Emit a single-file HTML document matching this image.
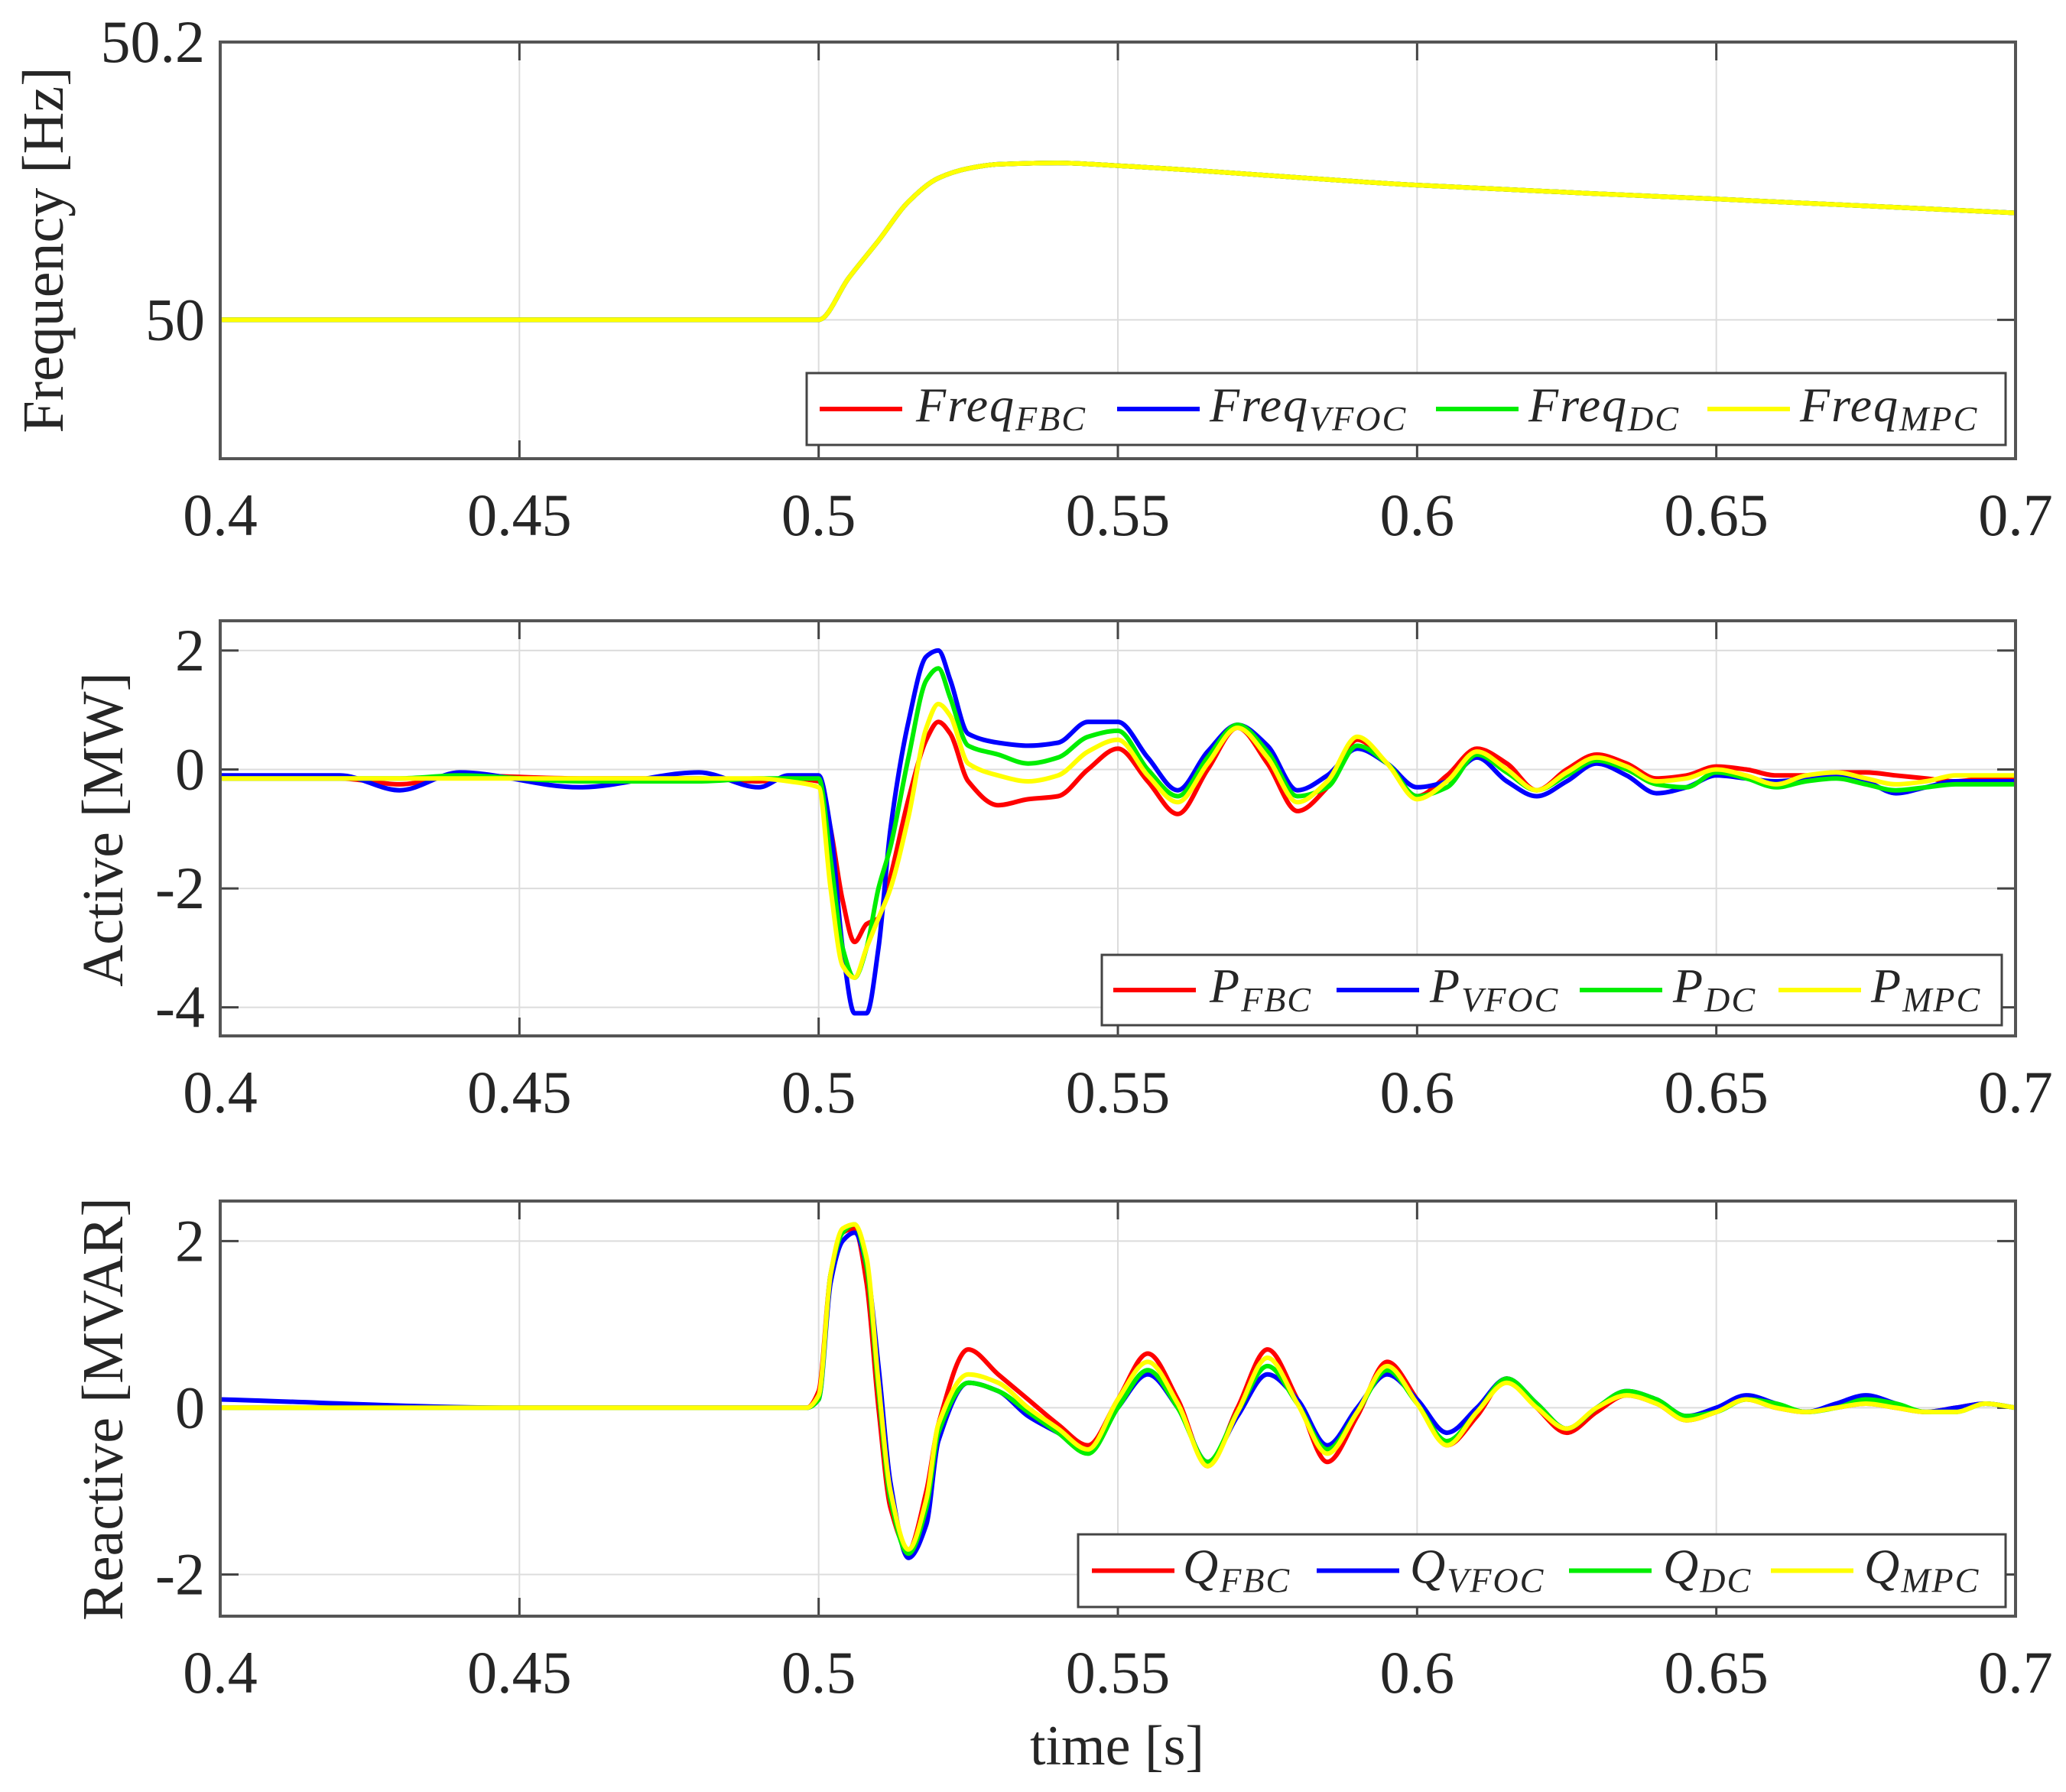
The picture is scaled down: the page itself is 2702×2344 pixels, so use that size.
<!DOCTYPE html>
<html><head><meta charset="utf-8"><style>
html,body{margin:0;padding:0;background:#fff}
svg{display:block}
text{font-family:"Liberation Serif","DejaVu Serif",serif;fill:#262626}
</style></head><body>
<svg id="fig" width="2702" height="2344" viewBox="0 0 2702 2344" xmlns="http://www.w3.org/2000/svg"></svg>
<script>
// ---- data ----
const xTicks=[0.4,0.45,0.5,0.55,0.6,0.65,0.7];
const xTickLabels=["0.4","0.45","0.5","0.55","0.6","0.65","0.7"];
const seriesColors=["#ff0000","#0000ff","#00ee00","#ffff00"];
const seriesKeys=["FBC","VFOC","DC","MPC"];

const tF=[0.4,0.5,0.505,0.51,0.515,0.52,0.525,0.53,0.54,0.55,0.6,0.65,0.7];
const fFBC=[50,50,50.03,50.057,50.085,50.102,50.109,50.112,50.113,50.111,50.097,50.087,50.077];
const fVFOC=[50,50,50.03,50.057,50.085,50.102,50.109,50.112,50.113,50.111,50.097,50.087,50.077];
const fDC=[50,50,50.03,50.057,50.085,50.102,50.109,50.112,50.113,50.111,50.097,50.087,50.077];
const fMPC=[50,50,50.03,50.057,50.085,50.102,50.109,50.112,50.113,50.111,50.097,50.087,50.077];
const fYTicks=[50,50.2];
const fYTickLabels=["50","50.2"];

const tP=[0.4,0.42,0.43,0.44,0.46,0.48,0.49,0.495,0.5,0.502,0.504,0.506,0.508,0.51,0.512,0.515,0.518,0.52,0.522,
0.525,0.53,0.535,0.54,0.545,0.55,0.555,0.56,0.565,0.57,0.575,0.58,0.585,0.59,0.595,0.6,0.605,0.61,0.615,0.62,0.625,0.63,0.635,0.64,0.645,0.65,0.655,0.66,0.665,0.67,0.675,0.68,0.685,0.69,0.695,0.7];
const pFBC=[-0.15,-0.15,-0.25,-0.1,-0.15,-0.15,-0.2,-0.15,-0.2,-1,-2.2,-2.9,-2.6,-2.5,-1.8,-0.5,0.5,0.8,0.6,
-0.2,-0.6,-0.5,-0.45,0,0.35,-0.2,-0.75,0,0.7,0.1,-0.7,-0.3,0.5,0.1,-0.45,-0.1,0.35,0.1,-0.35,0,0.25,0.1,-0.15,-0.1,0.05,0.0,-0.1,-0.1,-0.05,-0.05,-0.1,-0.15,-0.2,-0.15,-0.15];
const pVFOC=[-0.1,-0.1,-0.35,-0.05,-0.3,-0.05,-0.3,-0.1,-0.1,-1.0,-3.0,-4.1,-4.1,-3.0,-1.0,0.8,1.9,2.0,1.5,
0.6,0.45,0.4,0.45,0.8,0.8,0.2,-0.35,0.3,0.75,0.4,-0.35,-0.1,0.35,0.1,-0.3,-0.2,0.2,-0.2,-0.45,-0.2,0.1,-0.1,-0.4,-0.3,-0.1,-0.15,-0.2,-0.15,-0.1,-0.2,-0.4,-0.3,-0.2,-0.2,-0.2];
const pDC=[-0.15,-0.15,-0.15,-0.1,-0.2,-0.2,-0.15,-0.15,-0.15,-1.5,-3.0,-3.5,-3.0,-2.0,-1.3,0.2,1.5,1.7,1.2,
0.4,0.25,0.1,0.2,0.55,0.65,0,-0.45,0.2,0.75,0.3,-0.45,-0.3,0.4,0.1,-0.45,-0.3,0.25,-0.05,-0.35,-0.1,0.15,0,-0.25,-0.3,-0.05,-0.15,-0.3,-0.2,-0.15,-0.25,-0.35,-0.3,-0.25,-0.25,-0.25];
const pMPC=[-0.15,-0.15,-0.15,-0.15,-0.15,-0.15,-0.15,-0.2,-0.3,-2.0,-3.3,-3.5,-3.0,-2.5,-2.0,-0.8,0.7,1.1,0.9,
0.1,-0.1,-0.2,-0.1,0.3,0.5,-0.1,-0.55,0.1,0.7,0.2,-0.55,-0.2,0.55,0.1,-0.5,-0.2,0.3,0,-0.35,-0.05,0.2,0.05,-0.2,-0.15,0,-0.1,-0.25,-0.1,-0.05,-0.15,-0.25,-0.2,-0.1,-0.1,-0.1];
const pYTicks=[-4,-2,0,2];
const pYTickLabels=["-4","-2","0","2"];

const tQ=[0.4,0.45,0.498,0.5,0.502,0.504,0.506,0.508,0.51,0.512,0.515,0.518,0.52,
0.525,0.53,0.535,0.54,0.545,0.55,0.555,0.56,0.565,0.57,0.575,0.58,0.585,0.59,0.595,0.6,0.605,0.61,0.615,0.62,0.625,0.63,0.635,0.64,0.645,0.65,0.655,0.66,0.665,0.67,0.675,0.68,0.685,0.69,0.695,0.7];
const qFBC=[0,0,0,0.2,1.6,2.1,2.15,1.5,0,-1.2,-1.7,-1.0,-0.2,
0.7,0.4,0.1,-0.2,-0.45,0.1,0.65,0.1,-0.7,0.0,0.7,0.1,-0.65,-0.1,0.55,0.1,-0.45,-0.1,0.35,0.0,-0.3,-0.05,0.15,0.05,-0.15,-0.05,0.1,0.0,-0.05,0.0,0.05,0.0,-0.05,0.0,0.05,0.0];
const qVFOC=[0.1,0,0,0.1,1.5,2.0,2.1,1.7,0.5,-0.9,-1.8,-1.4,-0.4,
0.3,0.2,-0.1,-0.3,-0.5,0.0,0.4,0.0,-0.65,-0.1,0.4,0.1,-0.45,0.0,0.4,0.1,-0.3,0.0,0.35,0.05,-0.25,0.0,0.2,0.1,-0.1,0.0,0.15,0.05,-0.05,0.05,0.15,0.05,-0.05,0.0,0.05,0.0];
const qDC=[0,0,0,0.1,1.6,2.1,2.2,1.7,0.2,-1.1,-1.75,-1.2,-0.3,
0.3,0.2,-0.05,-0.3,-0.55,0.0,0.45,0.0,-0.65,-0.05,0.5,0.05,-0.5,-0.05,0.45,0.05,-0.4,-0.05,0.35,0.05,-0.25,0.0,0.2,0.1,-0.1,-0.05,0.1,0.05,-0.05,0.0,0.1,0.05,-0.05,-0.05,0.05,0.0];
const qMPC=[0,0,0,0.15,1.6,2.15,2.2,1.8,0.3,-1.0,-1.7,-1.1,-0.2,
0.4,0.3,0.0,-0.25,-0.5,0.1,0.55,0.05,-0.7,-0.05,0.6,0.05,-0.55,-0.05,0.5,0.05,-0.45,-0.05,0.3,0.0,-0.25,0.0,0.15,0.05,-0.15,-0.05,0.1,0.0,-0.05,0.0,0.05,0.0,-0.05,-0.05,0.05,0.0];
const qYTicks=[-2,0,2];
const qYTickLabels=["-2","0","2"];

// ---- drawing ----
const NS="http://www.w3.org/2000/svg";
const svg=document.getElementById('fig');
function mk(tag,attrs,parent){const e=document.createElementNS(NS,tag);for(const k in attrs)e.setAttribute(k,attrs[k]);(parent||svg).appendChild(e);return e;}
const L=288,R=2636;
function xs(t){return L+(t-0.4)/(0.7-0.4)*(R-L);}
function smoothPath(pts){
  const n=pts.length;
  const sec=[];for(let i=0;i<n-1;i++)sec.push((pts[i+1][1]-pts[i][1])/(pts[i+1][0]-pts[i][0]));
  const m=[];
  for(let i=0;i<n;i++){
    if(i===0)m.push(sec[0]);else if(i===n-1)m.push(sec[n-2]);
    else{const a=sec[i-1],b=sec[i];m.push(a*b<=0?0:2/(1/a+1/b));}
  }
  let d="M"+pts[0][0].toFixed(1)+","+pts[0][1].toFixed(1);
  for(let i=0;i<n-1;i++){
    const dx=(pts[i+1][0]-pts[i][0])/3;
    d+="C"+(pts[i][0]+dx).toFixed(1)+","+(pts[i][1]+m[i]*dx).toFixed(1)+" "+(pts[i+1][0]-dx).toFixed(1)+","+(pts[i+1][1]-m[i+1]*dx).toFixed(1)+" "+pts[i+1][0].toFixed(1)+","+pts[i+1][1].toFixed(1);
  }
  return d;
}
function panel(cfg){
  const g=mk('g',{});
  
  
  const ys=v=>cfg.bot-(v-cfg.ymin)/(cfg.ymax-cfg.ymin)*(cfg.bot-cfg.top);
  xTicks.forEach((t,i)=>{
    const x=xs(t);
    if(i>0&&i<xTicks.length-1){const gl=mk('line',{x1:x,x2:x,y1:cfg.top,y2:cfg.bot,stroke:'#dcdcdc','stroke-width':2},g);
    }
    mk('line',{x1:x,x2:x,y1:cfg.bot,y2:cfg.bot-24,stroke:'#444','stroke-width':3},g);
    mk('line',{x1:x,x2:x,y1:cfg.top,y2:cfg.top+24,stroke:'#444','stroke-width':3},g);
    const tl=mk('text',{x:x,y:cfg.bot+100,'font-size':78,'text-anchor':'middle'},g);
    tl.textContent=xTickLabels[i];
    
  });
  cfg.yTicks.forEach((v,i)=>{
    const y=ys(v);
    const gl=mk('line',{x1:L,x2:R,y1:y,y2:y,stroke:'#dcdcdc','stroke-width':2},g);
    
    mk('line',{x1:L,x2:L+24,y1:y,y2:y,stroke:'#444','stroke-width':3},g);
    mk('line',{x1:R,x2:R-24,y1:y,y2:y,stroke:'#444','stroke-width':3},g);
    const tl=mk('text',{x:268,y:y+26,'font-size':78,'text-anchor':'end'},g);
    tl.textContent=cfg.yTickLabels[i];
    
  });
  const cid='clip-'+cfg.name;
  const cp=mk('clipPath',{id:cid},g);mk('rect',{x:L,y:cfg.top,width:R-L,height:cfg.bot-cfg.top},cp);
  cfg.series.forEach((s,k)=>{
    const pts=cfg.t.map((t,i)=>[xs(t),ys(s[i])]);
    const p=mk('path',{d:smoothPath(pts),fill:'none',stroke:seriesColors[k],'stroke-width':6,'stroke-linejoin':'round','clip-path':'url(#'+cid+')'},g);
    
    
  });
  const box=mk('rect',{x:L,y:cfg.top,width:R-L,height:cfg.bot-cfg.top,fill:'none',stroke:'#555','stroke-width':4},g);
  
  const yl=mk('text',{x:0,y:0,'font-size':76,'text-anchor':'middle',transform:'translate('+cfg.ylx+','+cfg.yly+') rotate(-90)'},g);
  yl.textContent=cfg.ylabel;
  
  const lg=mk('g',{},g);
  
  mk('rect',{x:cfg.leg[0],y:cfg.leg[1],width:cfg.leg[2],height:cfg.leg[3],fill:'#fff',stroke:'#444','stroke-width':3},lg);
  const cy=cfg.leg[1]+cfg.leg[3]/2;
  cfg.legX.forEach((lx,k)=>{
    const e=mk('g',{},lg);
    
    
    mk('line',{x1:lx[0],x2:lx[0]+108,y1:cy,y2:cy,stroke:seriesColors[k],'stroke-width':6},e);
    const tx=mk('text',{x:lx[1],y:cy+16,'font-size':64,'font-style':'italic','letter-spacing':2},e);
    const a=mk('tspan',{},tx);a.textContent=cfg.prefix;
    const b=mk('tspan',{dy:12,'font-size':46},tx);b.textContent=seriesKeys[k];
  });
}
panel({name:'frequency-panel',top:55,bot:600,ymin:49.9,ymax:50.2,t:tF,series:[fFBC,fVFOC,fDC,fMPC],yTicks:fYTicks,yTickLabels:fYTickLabels,
  ylabel:'Frequency [Hz]',ylx:82,yly:327,prefix:'Freq',leg:[1055,488,1568,94],
  legX:[[1072,1198],[1461,1582],[1878,1999],[2233,2354]]});
panel({name:'active-panel',top:812,bot:1355,ymin:-4.48,ymax:2.5,t:tP,series:[pFBC,pVFOC,pDC,pMPC],yTicks:pYTicks,yTickLabels:pYTickLabels,
  ylabel:'Active [MW]',ylx:160,yly:1085,prefix:'P',leg:[1441,1249,1177,92],
  legX:[[1456,1582],[1748,1870],[2066,2188],[2326,2447]]});
panel({name:'reactive-panel',top:1571,bot:2114,ymin:-2.5,ymax:2.48,t:tQ,series:[qFBC,qVFOC,qDC,qMPC],yTicks:qYTicks,yTickLabels:qYTickLabels,
  ylabel:'Reactive [MVAR]',ylx:160,yly:1843,prefix:'Q',leg:[1410,2007,1213,95],
  legX:[[1428,1547],[1722,1844],[2052,2175],[2316,2438]]});
const xt=mk('text',{x:1461,y:2308,'font-size':74,'text-anchor':'middle'});
xt.textContent='time [s]';


</script>
</body></html>
